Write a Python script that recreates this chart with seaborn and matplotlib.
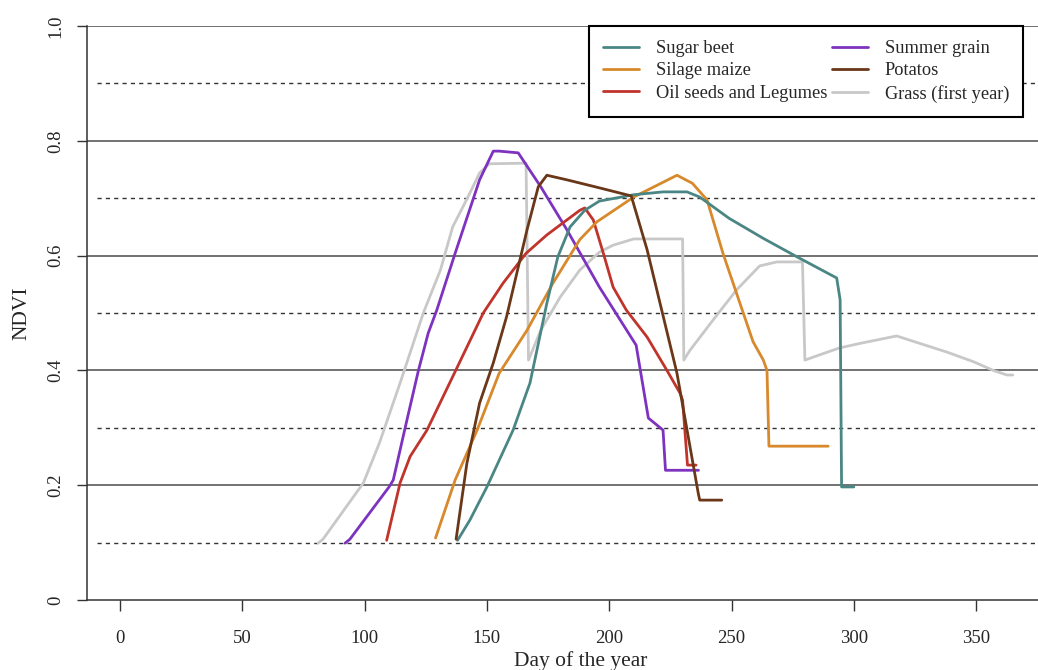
import numpy as np
import pandas as pd
import matplotlib
matplotlib.use("Agg")
import matplotlib.pyplot as plt
import seaborn as sns

# ---- data (day of year, NDVI) ----
sugar_beet_day = [138, 143, 150, 160.7, 167.6, 174.5, 179, 184, 190, 196, 210, 222, 231.8, 237, 249, 263, 276.7, 293, 294.4, 295, 300]
sugar_beet_ndvi = [0.104, 0.139, 0.197, 0.296, 0.378, 0.517, 0.598, 0.65, 0.679, 0.695, 0.706, 0.711, 0.711, 0.702, 0.665, 0.63, 0.598, 0.561, 0.523, 0.197, 0.197]

silage_maize_day = [129, 137, 146, 155, 166.4, 177, 188, 195, 210, 227.7, 234, 240, 246.5, 252, 258.8, 263, 264.5, 265.3, 289.5]
silage_maize_ndvi = [0.108, 0.209, 0.296, 0.395, 0.47, 0.552, 0.628, 0.659, 0.702, 0.74, 0.726, 0.697, 0.604, 0.535, 0.45, 0.418, 0.40, 0.268, 0.268]

oil_seeds_day = [109, 114.5, 118.6, 125.5, 136, 148.5, 156.6, 166, 174.5, 188, 190, 193.5, 197.6, 201.6, 207, 215.5, 223.6, 229, 230, 232, 235.5]
oil_seeds_ndvi = [0.104, 0.204, 0.25, 0.296, 0.389, 0.50, 0.552, 0.604, 0.636, 0.679, 0.683, 0.662, 0.604, 0.545, 0.505, 0.458, 0.40, 0.36, 0.348, 0.235, 0.235]

summer_grain_day = [92, 94, 110, 111.7, 117, 122, 126, 129.5, 137, 147, 152.6, 155, 162.8, 172, 182.7, 196, 211, 216, 222, 223, 236.5]
summer_grain_ndvi = [0.099, 0.106, 0.197, 0.209, 0.308, 0.40, 0.465, 0.505, 0.604, 0.732, 0.782, 0.782, 0.779, 0.72, 0.645, 0.545, 0.444, 0.317, 0.296, 0.226, 0.226]

potatos_day = [137.4, 141.8, 147, 152.6, 158, 166.4, 171, 174.5, 182.7, 196, 209, 215.5, 227.7, 236.4, 237, 246]
potatos_ndvi = [0.106, 0.238, 0.343, 0.413, 0.493, 0.645, 0.72, 0.74, 0.732, 0.718, 0.704, 0.61, 0.395, 0.186, 0.174, 0.174]

grass_day = [81, 83, 99.5, 106, 114.5, 124, 131, 136, 142, 147, 151, 166, 167, 172, 180, 188, 196, 201.5, 210, 230, 230.5, 233, 242.5, 252, 261.5, 268.5, 279, 280, 294, 302.5, 317.5, 327, 338, 349, 357, 362.6, 365]
grass_ndvi = [0.099, 0.106, 0.204, 0.273, 0.378, 0.50, 0.575, 0.65, 0.70, 0.744, 0.76, 0.761, 0.418, 0.47, 0.528, 0.575, 0.606, 0.618, 0.629, 0.629, 0.418, 0.435, 0.488, 0.54, 0.582, 0.589, 0.589, 0.418, 0.439, 0.447, 0.46, 0.447, 0.432, 0.415, 0.40, 0.392, 0.392]

series_names = ["Sugar beet", "Silage maize", "Oil seeds and Legumes",
                "Summer grain", "Potatos", "Grass (first year)"]
series_days = [sugar_beet_day, silage_maize_day, oil_seeds_day,
               summer_grain_day, potatos_day, grass_day]
series_ndvi = [sugar_beet_ndvi, silage_maize_ndvi, oil_seeds_ndvi,
               summer_grain_ndvi, potatos_ndvi, grass_ndvi]
series_colors = ["#4a8683", "#d7892b", "#c0342c", "#7d33bf", "#6a3719", "#c8c8c8"]

x_ticks = [0, 50, 100, 150, 200, 250, 300, 350]
y_ticks = [0, 0.2, 0.4, 0.6, 0.8, 1.0]
y_tick_labels = ["0", "0.2", "0.4", "0.6", "0.8", "1.0"]
y_dashed = [0.1, 0.3, 0.5, 0.7, 0.9]

# ---- figure ----
sns.set_style("white")
plt.rcParams["font.family"] = ["Liberation Serif", "DejaVu Serif"]

W, H = 1038, 670
fig = plt.figure(figsize=(W / 100, H / 100), dpi=100)
x0, x1 = -13.5, 390
left = 87 / W
bottom = 1 - 600 / H
height = (600 - 26) / H
ax_w_px = (x1 - x0) * 2.446
width = ax_w_px / W
ax = fig.add_axes([left, bottom, width, height])

# grid lines
for yv in y_ticks[1:]:
    ax.axhline(yv, color="#4a4a4a", lw=1.1, zorder=1)
for yv in y_dashed:
    ax.axhline(yv, xmin=10 / ax_w_px, color="#333333", lw=1.0,
               ls=(0, (3, 3)), zorder=1)

frames = []
for name, d, v in zip(series_names, series_days, series_ndvi):
    frames.append(pd.DataFrame({"day": d, "ndvi": v, "crop": name}))
df = pd.concat(frames, ignore_index=True)

draw_order = ["Grass (first year)", "Summer grain", "Oil seeds and Legumes",
              "Silage maize", "Sugar beet", "Potatos"]
cmap = dict(zip(series_names, series_colors))
for name in draw_order:
    sub = df[df["crop"] == name]
    sns.lineplot(data=sub, x="day", y="ndvi", color=cmap[name], lw=2.0,
                 estimator=None, sort=False, ax=ax, zorder=3, label=name)

ax.set_xlim(x0, x1)
ax.set_ylim(0, 1)
ax.set_xticks(x_ticks)
ax.set_xticklabels([str(t) for t in x_ticks], fontsize=13.5)
ax.set_yticks(y_ticks)
ax.set_yticklabels(y_tick_labels, fontsize=13.5, rotation=90,
                   va="center", ha="center")
ax.tick_params(axis="both", direction="out", width=1.0, color="#333333",
               bottom=True, left=True)
ax.tick_params(axis="x", length=8, pad=13.5)
ax.tick_params(axis="y", length=7.2, pad=15.5)
for s in ["top", "right"]:
    ax.spines[s].set_visible(False)
for s in ["left", "bottom"]:
    ax.spines[s].set_color("#333333")
    ax.spines[s].set_linewidth(1.1)

ax.set_xlabel("Day of the year", fontsize=15.5, labelpad=3)
ax.set_ylabel("NDVI", fontsize=15.5)
ax.yaxis.set_label_coords(-(87 - 31) / ax_w_px, 0.5)

handles, labels = ax.get_legend_handles_labels()
hmap = dict(zip(labels, handles))
leg = ax.legend([hmap[n] for n in series_names], series_names,
                loc="upper left", bbox_to_anchor=(589 / W, 1 - 26 / H),
                bbox_transform=fig.transFigure, borderaxespad=0,
                ncol=2, fontsize=13.2, frameon=True, fancybox=False,
                edgecolor="black", framealpha=1, handlelength=1.95,
                handletextpad=0.9, columnspacing=0.3, labelspacing=0.28,
                borderpad=0.78)
leg.get_frame().set_linewidth(1.5)
for line in leg.get_lines():
    line.set_linewidth(2.0)

fig.savefig("out.png", dpi=100)
